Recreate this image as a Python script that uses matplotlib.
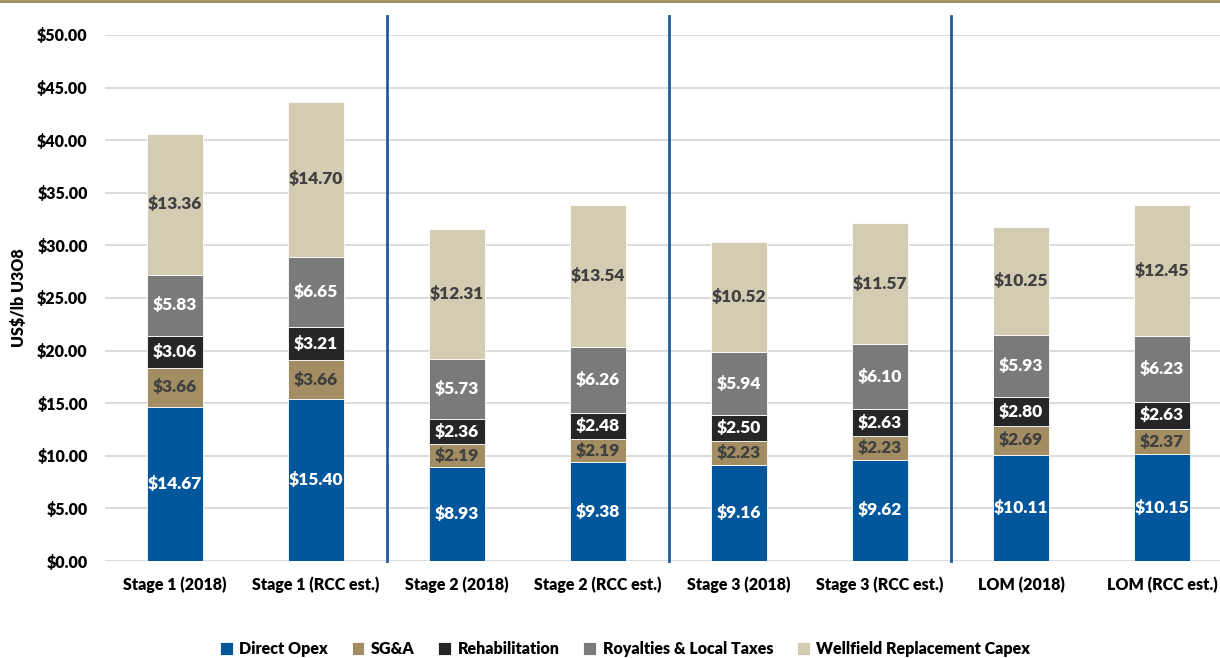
import numpy as np
import matplotlib
matplotlib.use("Agg")
import matplotlib.pyplot as plt
from matplotlib.lines import Line2D

plt.rcParams['font.family'] = ['Lato', 'DejaVu Sans']
plt.rcParams['font.weight'] = 'heavy'

categories = ["Stage 1 (2018)", "Stage 1 (RCC est.)", "Stage 2 (2018)", "Stage 2 (RCC est.)",
              "Stage 3 (2018)", "Stage 3 (RCC est.)", "LOM (2018)", "LOM (RCC est.)"]
direct_opex = [14.67, 15.40, 8.93, 9.38, 9.16, 9.62, 10.11, 10.15]
sga = [3.66, 3.66, 2.19, 2.19, 2.23, 2.23, 2.69, 2.37]
rehabilitation = [3.06, 3.21, 2.36, 2.48, 2.50, 2.63, 2.80, 2.63]
royalties = [5.83, 6.65, 5.73, 6.26, 5.94, 6.10, 5.93, 6.23]
wellfield = [13.36, 14.70, 12.31, 13.54, 10.52, 11.57, 10.25, 12.45]

series_names = ["Direct Opex", "SG&A", "Rehabilitation", "Royalties & Local Taxes",
                "Wellfield Replacement Capex"]
colors = ["#02569B", "#A28E62", "#262626", "#7A7A7A", "#D4CBB3"]
label_colors = ["white", "#404040", "white", "white", "#404040"]
yticks = np.arange(0, 50.01, 5)
W = "heavy"

fig = plt.figure(figsize=(12.2, 6.58), dpi=100)
ax = fig.add_axes([104.5 / 1220, 97 / 658, 1128 / 1220, 526 / 658])

x = np.arange(len(categories))
bottom = np.zeros(len(categories))
for vals, name, col, lc in zip([direct_opex, sga, rehabilitation, royalties, wellfield],
                               series_names, colors, label_colors):
    vals = np.array(vals)
    ax.bar(x, vals, 0.4, bottom=bottom, color=col, edgecolor="white",
           linewidth=0.6, label=name, zorder=3)
    for xi, b, v in zip(x, bottom, vals):
        ax.text(xi, b + v / 2, f"${v:.2f}", ha="center", va="center",
                color=lc, fontsize=12.5, fontweight=W, zorder=4)
    bottom += vals

ax.set_xlim(-0.5, len(categories) - 0.5)
ax.set_ylim(0, 50)
ax.set_yticks(yticks)
ax.set_yticklabels([f"${v:.2f}" for v in yticks], fontweight=W)
ax.set_xticks(x)
ax.set_xticklabels(categories, fontweight=W)
ax.tick_params(axis="both", length=0, labelsize=11.5, colors="black")
ax.tick_params(axis="y", pad=12)
ax.tick_params(axis="x", pad=11)
ax.grid(axis="y", color="#D9D9D9", linewidth=1.3, zorder=0)
ax.set_axisbelow(True)
for s in ax.spines.values():
    s.set_visible(False)

ax.set_ylabel("US$/lb U3O8", fontsize=11.5, fontweight=W)
ax.yaxis.set_label_coords(-0.069, 0.5)

# separators between stages
for xs in [1.5, 3.5, 5.5]:
    ax.axvline(xs, ymin=0, ymax=1.036, color="#1F5C99", linewidth=2, clip_on=False, zorder=5)

# thin gold rule at top of the figure
fig.add_artist(Line2D([0, 1], [0.998, 0.998], transform=fig.transFigure,
                      color="#9C8A5A", linewidth=2))

handles, labels = ax.get_legend_handles_labels()
fig.legend(handles, labels, loc="center", bbox_to_anchor=(625 / 1220, 1 - 649 / 658), ncol=5,
           frameon=False, prop={"size": 11.5, "weight": W}, handlelength=0.8,
           handleheight=0.8, handletextpad=0.4, columnspacing=1.5)

fig.savefig("out.png", dpi=100)
